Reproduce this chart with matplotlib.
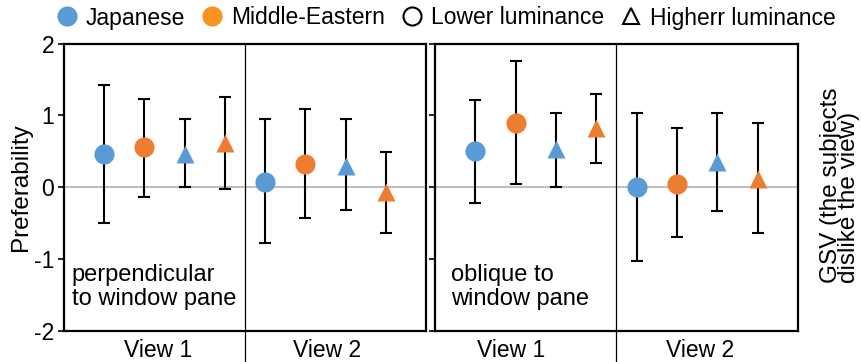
import matplotlib
matplotlib.use("Agg")
import matplotlib.pyplot as plt
from matplotlib.lines import Line2D

plt.rcParams["font.family"] = ["Liberation Sans", "DejaVu Sans"]
plt.rcParams["axes.unicode_minus"] = False

# 数据
views = ["View 1", "View 2"]
groups = ["jp_low", "me_low", "jp_high", "me_high"]
group_colors = ["#5B9BD5", "#ED7D31", "#5B9BD5", "#ED7D31"]
group_markers = ["o", "o", "^", "^"]

# perpendicular to window pane
perp_mean = {"jp_low": [0.47, 0.08], "me_low": [0.56, 0.33],
             "jp_high": [0.47, 0.30], "me_high": [0.61, -0.07]}
perp_upper = {"jp_low": [1.42, 0.955], "me_low": [1.23, 1.09],
              "jp_high": [0.955, 0.955], "me_high": [1.25, 0.49]}
perp_lower = {"jp_low": [-0.50, -0.78], "me_low": [-0.13, -0.43],
              "jp_high": [0.0, -0.32], "me_high": [-0.03, -0.63]}

# oblique to window pane
obl_mean = {"jp_low": [0.50, 0.0], "me_low": [0.90, 0.04],
            "jp_high": [0.53, 0.35], "me_high": [0.82, 0.12]}
obl_upper = {"jp_low": [1.21, 1.03], "me_low": [1.76, 0.82],
             "jp_high": [1.03, 1.03], "me_high": [1.30, 0.89]}
obl_lower = {"jp_low": [-0.22, -1.02], "me_low": [0.05, -0.69],
             "jp_high": [0.0, -0.33], "me_high": [0.34, -0.63]}

panel_notes = ["perpendicular\nto window pane", "oblique to\nwindow pane"]
note_x = [0.022, 0.044]
view_label_pos = [[2.35, 6.55], [1.9, 6.58]]
legend_labels = ["Japanese", "Middle-Eastern", "Lower luminance", "Higherr luminance"]

FS = 16.5

fig = plt.figure(figsize=(8.61, 3.62), dpi=100)
ax_l = fig.add_axes([0.0743, 0.0856, 0.4204, 0.794])
ax_r = fig.add_axes([0.5052, 0.0856, 0.4216, 0.794])

panels = [(ax_l, perp_mean, perp_upper, perp_lower),
          (ax_r, obl_mean, obl_upper, obl_lower)]

for p, (ax, mean, upper, lower) in enumerate(panels):
    ax.axhline(0, color="#BFBFBF", lw=1.5, zorder=1)
    for g, key in enumerate(groups):
        for v in range(len(views)):
            x = 1 + g + 4 * v
            y = mean[key][v]
            ax.errorbar([x], [y],
                        yerr=[[y - lower[key][v]], [upper[key][v] - y]],
                        fmt="none", ecolor="black", elinewidth=1.5,
                        capsize=4.3, capthick=1.5, zorder=2)
            ms = 14.5 if group_markers[g] == "o" else 13
            ax.plot([x], [y], marker=group_markers[g], color=group_colors[g],
                    ms=ms, mec="none", ls="none", zorder=3)

    ax.set_xlim(0, 9)
    ax.set_ylim(-2, 2)
    ax.set_yticks([-2, -1, 0, 1, 2])
    ax.set_xticks(view_label_pos[p])
    ax.set_xticklabels(views, fontsize=FS)
    ax.tick_params(axis="x", length=0, pad=6)
    ax.tick_params(axis="y", direction="out", length=4, width=1.2, labelsize=FS, pad=3)
    for s in ax.spines.values():
        s.set_linewidth(1.6)
    # 中间分隔线, 延伸到坐标轴下方
    ax.plot([4.5, 4.5], [1, -0.11], transform=ax.get_xaxis_transform(),
            color="black", lw=0.9, clip_on=False, zorder=4)
    ax.text(note_x[p], 0.232, panel_notes[p], transform=ax.transAxes,
            fontsize=17, va="top", ha="left", linespacing=1.1)

ax_r.set_yticklabels([])
ax_l.set_ylabel("Preferability", fontsize=17.5)
ax_l.yaxis.set_label_coords(-0.088, 0.5)

fig.text(0.9756, 0.218, "GSV (the subjects\ndislike the view)", rotation=90,
         ha="center", va="bottom", multialignment="left", fontsize=17.5,
         linespacing=0.8)

handles = [
    Line2D([], [], marker="o", color="#5B9BD5", mec="none", ms=14.5, ls="none"),
    Line2D([], [], marker="o", color="#F7941D", mec="none", ms=14.5, ls="none"),
    Line2D([], [], marker="o", mfc="white", mec="black", mew=1.5, ms=13, ls="none"),
    Line2D([], [], marker="^", mfc="white", mec="black", mew=1.5, ms=12, ls="none"),
]
fig.legend(handles, legend_labels, ncol=4, loc="center left",
           bbox_to_anchor=(0.0669, 1 - 18 / 362), frameon=False, fontsize=16.5,
           handlelength=0.8, handletextpad=0.41, columnspacing=0.8,
           borderaxespad=0, borderpad=0)

fig.savefig("out.png", dpi=100)
plt.close(fig)
